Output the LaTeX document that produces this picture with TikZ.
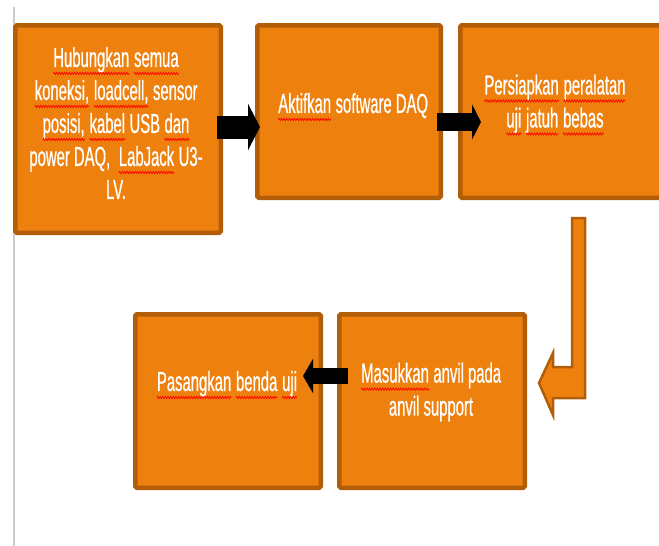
\documentclass[tikz,border=0pt]{standalone}
\usepackage{fontspec}
\usetikzlibrary{arrows.meta,calc,decorations.pathmorphing}

\newfontfamily\boxfont{Liberation Sans}[FakeStretch=0.54, FakeBold=0.6]
\definecolor{boxfill}{RGB}{238,128,14}
\definecolor{boxline}{RGB}{178,94,8}
\definecolor{sideline}{RGB}{204,204,204}

% red spelling squiggle under one word
\newcommand\sq[1]{\tikz[baseline=(w.base)]{%
  \node[inner sep=0pt, outer sep=0pt] (w) {#1};
  \draw[red, line width=0.7pt, decorate,
    decoration={zigzag, amplitude=1.1pt, segment length=2.6pt}]
    ([yshift=-6.5pt]w.base west) -- ([yshift=-6.5pt]w.base east);}}

\begin{document}
\begin{tikzpicture}[
      x=1pt, y=-1pt,
      stepbox/.style={draw=boxline, fill=boxfill, line width=4.5pt,
        rounded corners=1.5pt, inner sep=0pt},
      txt/.style={text=white, align=center, inner sep=0pt,
        font=\boxfont\fontsize{27.5}{33}\selectfont},
      blk/.style n args={3}{draw=black, line width=#1,
        -{Triangle[length=#2, width=#3]}},
      bent/.style={draw=boxline, fill=boxfill, line width=2.5pt, line join=miter}
    ]
    \useasboundingbox (0,0) rectangle (659,546);
    \draw[sideline, line width=2pt] (14,7) -- (14,546);

    % Top row
    \node[stepbox, minimum width=205.5pt, minimum height=207.5pt] (b1) at (118,129) {};
    \node[stepbox, minimum width=183.5pt, minimum height=172.5pt] (b2) at (349,111.5) {};
    \node[stepbox, minimum width=207.5pt, minimum height=172.5pt] (b3) at (564,111.5) {};
    \node[txt] (t1) at (116,123) {\sq{Hubungkan} \sq{semua}\\
      \sq{koneksi,} \sq{loadcell,} sensor\\
      \sq{posisi,} \sq{kabel} USB \sq{dan}\\
      power DAQ,\ \ \sq{LabJack} U3-\\LV.};
    \node[txt] (t2) at (353,107) {\sq{Aktifkan} software DAQ};
    \node[txt] (t3) at (555,105) {\sq{Persiapkan} \sq{peralatan}\\
      \sq{uji} \sq{jatuh} \sq{bebas}};

    % Bottom row
    \node[stepbox, minimum width=185.5pt, minimum height=173.5pt] (b4) at (228,401) {};
    \node[stepbox, minimum width=185.5pt, minimum height=173.5pt] (b5) at (432,401) {};
    \node[txt] (t4) at (227,385) {\sq{Pasangkan} \sq{benda} \sq{uji}};
    \node[txt] (t5) at (431,392) {\sq{Masukkan} anvil pada\\anvil support};

    % Arrows
    \draw[blk={23pt}{12pt}{46pt}] ($(b1.east)+(-6,-2)$) -- ($(b2.west)+(5,15.5)$);
    \draw[blk={18pt}{9pt}{35pt}] ($(b2.east)+(-6,10.5)$) -- ($(b3.west)+(23,10.5)$);
    \draw[blk={16pt}{10pt}{34pt}] ($(b5.west)+(11,-25)$) -- ($(b4.east)+(-20,-25)$);

    \coordinate (ba) at ($(b3.south)+(14.5,18)$);
    \coordinate (bz) at ($(b5.east)+(12,-18)$);
    \draw[bent] ($(ba)+(-6.5,0)$) -- ($(ba)+(6.5,0)$) -- ($(ba |- bz)+(6.5,15)$)
      -- ($(bz)+(14,15)$) -- ($(bz)+(14,32)$) -- (bz) -- ($(bz)+(14,-30)$)
      -- ($(bz)+(14,-16)$) -- ($(ba |- bz)+(-6.5,-16)$) -- cycle;
  \end{tikzpicture}
\end{document}
